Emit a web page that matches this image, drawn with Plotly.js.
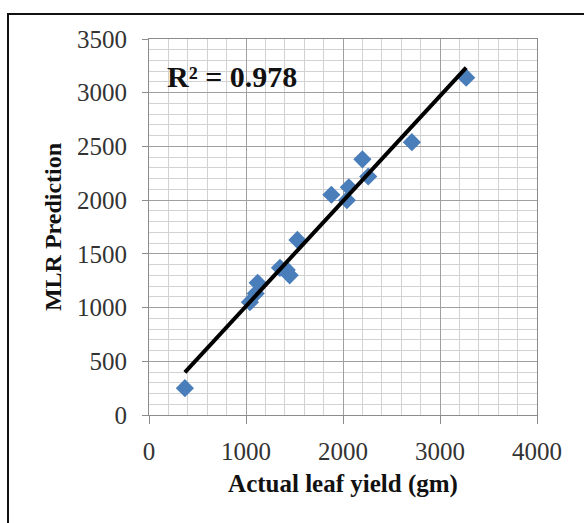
<!DOCTYPE html>
<html>
<head>
<meta charset="utf-8">
<script src="https://cdn.plot.ly/plotly-3.0.1.min.js"></script>
<style>
html,body{margin:0;padding:0;overflow:hidden;background:#fff;}
#chart{width:584px;height:523px;}
#frame{position:absolute;left:7px;top:13px;width:700px;height:700px;border:2px solid #111;pointer-events:none;}
</style>
</head>
<body>
<div id="chart"></div>
<div id="frame"></div>
<script>
// Actual leaf yield (gm)
var actualYield = [370, 1040, 1100, 1120, 1350, 1420, 1450, 1530, 1880, 2040, 2060, 2200, 2260, 2710, 3270];
// MLR Prediction
var mlrPrediction = [250, 1050, 1130, 1230, 1370, 1350, 1300, 1630, 2050, 2000, 2120, 2380, 2220, 2540, 3140];
var xTicks = [0, 1000, 2000, 3000, 4000];
var yTicks = [0, 500, 1000, 1500, 2000, 2500, 3000, 3500];
var r2Label = "R\u00b2 = 0.978";

// linear least-squares trend line through the data
var n = actualYield.length, sx = 0, sy = 0, sxx = 0, sxy = 0;
for (var i = 0; i < n; i++) { sx += actualYield[i]; sy += mlrPrediction[i]; sxx += actualYield[i]*actualYield[i]; sxy += actualYield[i]*mlrPrediction[i]; }
var slope = (n*sxy - sx*sy) / (n*sxx - sx*sx);
var intercept = (sy - slope*sx) / n;
var xMin = Math.min.apply(null, actualYield), xMax = Math.max.apply(null, actualYield);
var trendX = [xMin, xMax];
var trendY = trendX.map(function(v){ return intercept + slope*v; });

var font = "Liberation Serif, Times New Roman, serif";

var data = [
  {
    x: actualYield, y: mlrPrediction, type: 'scatter', mode: 'markers',
    marker: {symbol: 'diamond', size: 14, color: '#4a7ebb', line: {width: 0}},
    hoverinfo: 'x+y', showlegend: false
  },
  {
    x: trendX, y: trendY, type: 'scatter', mode: 'lines',
    line: {color: '#000', width: 4}, showlegend: false, hoverinfo: 'skip'
  }
];

var layout = {
  width: 584, height: 523,
  margin: {l: 149, r: 47, t: 39, b: 108},
  paper_bgcolor: '#fff', plot_bgcolor: '#fff',
  font: {family: font, color: '#333', size: 25},
  xaxis: {
    range: [0, 4000], tickvals: xTicks, ticktext: xTicks.map(String),
    showgrid: true, gridcolor: '#a0a0a0', gridwidth: 1,
    minor: {dtick: 200, showgrid: true, gridcolor: '#d2d2d2', gridwidth: 1},
    showline: true, linecolor: '#8c8c8c', linewidth: 1, mirror: true,
    ticks: 'outside', ticklen: 8, tickcolor: '#8c8c8c',
    ticklabelstandoff: 6,
    zeroline: false, tickfont: {family: font, size: 25, color: '#333'},
    title: {text: '<b>Actual leaf yield (gm)</b>', font: {family: font, size: 25, color: '#111'}, standoff: 10}
  },
  yaxis: {
    range: [0, 3500], tickvals: yTicks, ticktext: yTicks.map(String),
    showgrid: true, gridcolor: '#a0a0a0', gridwidth: 1,
    minor: {dtick: 100, showgrid: true, gridcolor: '#d2d2d2', gridwidth: 1},
    showline: true, linecolor: '#8c8c8c', linewidth: 1, mirror: true,
    ticks: 'outside', ticklen: 6, tickcolor: '#8c8c8c',
    ticklabelstandoff: 10,
    zeroline: false, tickfont: {family: font, size: 25, color: '#333'},
    title: {text: '<b>MLR Prediction</b>', font: {family: font, size: 24, color: '#111'}, standoff: 8}
  },
  annotations: [{
    x: 170, y: 3150, xref: 'x', yref: 'y', xanchor: 'left', yanchor: 'middle',
    text: '<b>' + r2Label + '</b>', showarrow: false,
    font: {family: font, size: 30, color: '#111'}, bgcolor: 'rgba(0,0,0,0)'
  }]
};

Plotly.newPlot('chart', data, layout, {displayModeBar: false, staticPlot: true});
</script>
</body>
</html>
